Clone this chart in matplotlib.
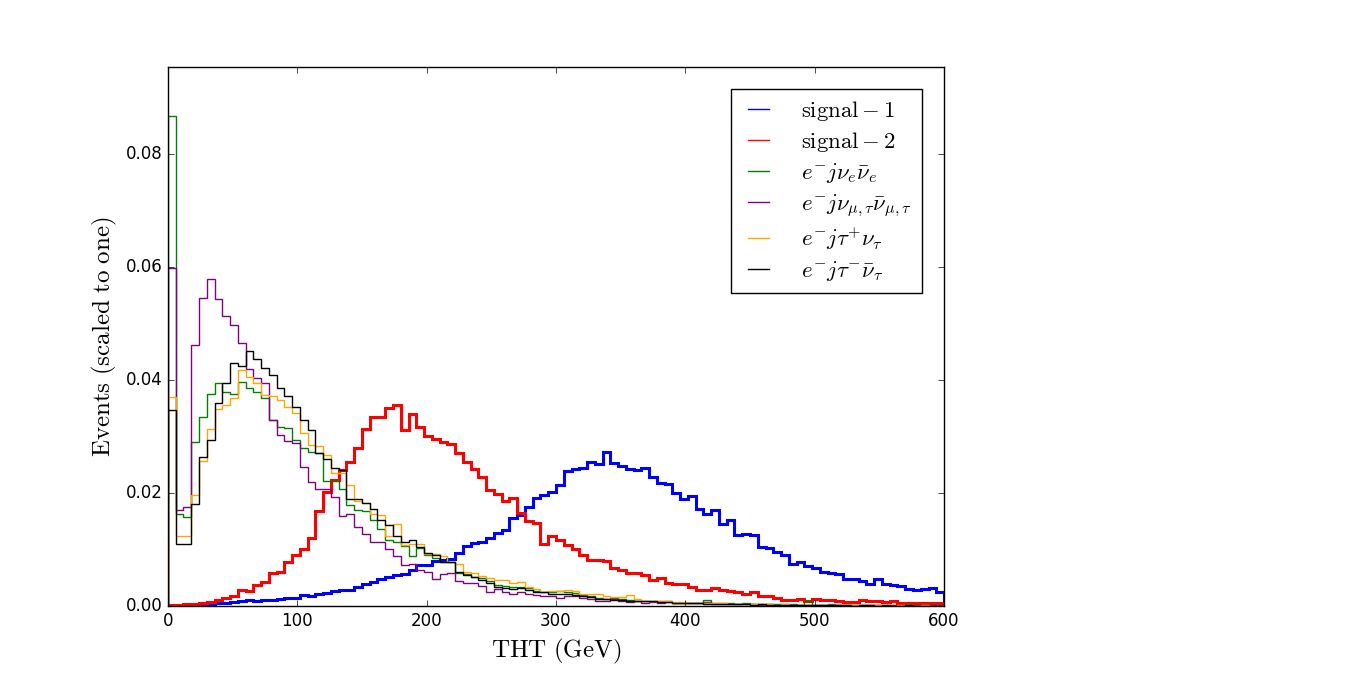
#!/usr/bin/env python3
import numpy as numpy
import matplotlib
matplotlib.use("Agg")
import matplotlib.pyplot as plt
from matplotlib.lines import Line2D

# THT histograms, 100 bins of 6 GeV from 0 to 600, normalised to one
binEdges = numpy.arange(0, 606, 6)

signal1 = [
    0.0000, 0.0000, 0.0001, 0.0001, 0.0002, 0.0003, 0.0005, 0.0005, 0.0007, 0.0008,
    0.0011, 0.0008, 0.0011, 0.0011, 0.0012, 0.0014, 0.0015, 0.0020, 0.0018, 0.0021,
    0.0023, 0.0026, 0.0029, 0.0029, 0.0034, 0.0039, 0.0042, 0.0047, 0.0051, 0.0054,
    0.0057, 0.0064, 0.0072, 0.0073, 0.0079, 0.0081, 0.0084, 0.0094, 0.0106, 0.0111,
    0.0114, 0.0120, 0.0130, 0.0135, 0.0155, 0.0161, 0.0175, 0.0191, 0.0196, 0.0201,
    0.0214, 0.0239, 0.0242, 0.0245, 0.0255, 0.0252, 0.0272, 0.0253, 0.0248, 0.0242,
    0.0240, 0.0244, 0.0229, 0.0218, 0.0216, 0.0200, 0.0189, 0.0194, 0.0171, 0.0163,
    0.0170, 0.0145, 0.0152, 0.0126, 0.0127, 0.0126, 0.0104, 0.0102, 0.0096, 0.0090,
    0.0074, 0.0078, 0.0070, 0.0068, 0.0061, 0.0058, 0.0057, 0.0048, 0.0048, 0.0045,
    0.0039, 0.0048, 0.0039, 0.0037, 0.0036, 0.0030, 0.0028, 0.0030, 0.0031, 0.0024,
]
signal2 = [
    0.0001, 0.0002, 0.0003, 0.0004, 0.0005, 0.0007, 0.0011, 0.0014, 0.0017, 0.0028,
    0.0027, 0.0037, 0.0043, 0.0058, 0.0061, 0.0078, 0.0090, 0.0100, 0.0120, 0.0169,
    0.0202, 0.0223, 0.0241, 0.0255, 0.0279, 0.0313, 0.0335, 0.0334, 0.0350, 0.0356,
    0.0312, 0.0340, 0.0316, 0.0300, 0.0296, 0.0291, 0.0287, 0.0270, 0.0255, 0.0242,
    0.0229, 0.0205, 0.0199, 0.0186, 0.0191, 0.0165, 0.0151, 0.0147, 0.0110, 0.0124,
    0.0116, 0.0108, 0.0101, 0.0090, 0.0081, 0.0081, 0.0080, 0.0067, 0.0063, 0.0059,
    0.0058, 0.0055, 0.0046, 0.0049, 0.0041, 0.0039, 0.0039, 0.0034, 0.0028, 0.0028,
    0.0031, 0.0028, 0.0027, 0.0025, 0.0021, 0.0024, 0.0018, 0.0017, 0.0014, 0.0011,
    0.0011, 0.0012, 0.0009, 0.0012, 0.0011, 0.0011, 0.0008, 0.0007, 0.0007, 0.0011,
    0.0008, 0.0008, 0.0007, 0.0008, 0.0006, 0.0005, 0.0006, 0.0005, 0.0006, 0.0006,
]
bkgNuE = [
    0.0867, 0.0163, 0.0158, 0.0290, 0.0335, 0.0376, 0.0394, 0.0378, 0.0376, 0.0397,
    0.0385, 0.0379, 0.0368, 0.0329, 0.0316, 0.0315, 0.0294, 0.0280, 0.0273, 0.0270,
    0.0222, 0.0222, 0.0207, 0.0178, 0.0170, 0.0169, 0.0152, 0.0136, 0.0116, 0.0114,
    0.0107, 0.0089, 0.0102, 0.0090, 0.0085, 0.0077, 0.0077, 0.0059, 0.0057, 0.0051,
    0.0049, 0.0045, 0.0037, 0.0036, 0.0033, 0.0034, 0.0031, 0.0027, 0.0025, 0.0024,
    0.0026, 0.0024, 0.0023, 0.0019, 0.0018, 0.0015, 0.0013, 0.0014, 0.0012, 0.0011,
    0.0009, 0.0008, 0.0008, 0.0008, 0.0007, 0.0005, 0.0005, 0.0005, 0.0005, 0.0010,
    0.0006, 0.0006, 0.0005, 0.0004, 0.0005, 0.0004, 0.0003, 0.0003, 0.0004, 0.0003,
    0.0003, 0.0002, 0.0008, 0.0002, 0.0002, 0.0003, 0.0002, 0.0002, 0.0002, 0.0001,
    0.0002, 0.0001, 0.0001, 0.0002, 0.0001, 0.0001, 0.0001, 0.0001, 0.0001, 0.0001,
]
bkgNuMuTau = [
    0.0599, 0.0170, 0.0176, 0.0462, 0.0545, 0.0579, 0.0543, 0.0513, 0.0497, 0.0465,
    0.0420, 0.0404, 0.0394, 0.0329, 0.0303, 0.0292, 0.0289, 0.0246, 0.0220, 0.0207,
    0.0207, 0.0193, 0.0159, 0.0162, 0.0140, 0.0127, 0.0113, 0.0113, 0.0101, 0.0089,
    0.0073, 0.0074, 0.0064, 0.0061, 0.0047, 0.0057, 0.0059, 0.0045, 0.0041, 0.0040,
    0.0035, 0.0025, 0.0030, 0.0025, 0.0021, 0.0025, 0.0021, 0.0020, 0.0018, 0.0018,
    0.0015, 0.0018, 0.0017, 0.0014, 0.0012, 0.0009, 0.0008, 0.0012, 0.0008, 0.0007,
    0.0008, 0.0006, 0.0007, 0.0006, 0.0008, 0.0006, 0.0005, 0.0005, 0.0005, 0.0007,
    0.0004, 0.0004, 0.0003, 0.0003, 0.0004, 0.0003, 0.0002, 0.0003, 0.0002, 0.0002,
    0.0002, 0.0002, 0.0001, 0.0002, 0.0001, 0.0001, 0.0001, 0.0001, 0.0001, 0.0001,
    0.0001, 0.0001, 0.0000, 0.0001, 0.0000, 0.0001, 0.0000, 0.0000, 0.0001, 0.0000,
]
bkgTauPlus = [
    0.0370, 0.0124, 0.0124, 0.0196, 0.0257, 0.0313, 0.0348, 0.0356, 0.0368, 0.0418,
    0.0405, 0.0394, 0.0373, 0.0372, 0.0365, 0.0352, 0.0341, 0.0307, 0.0285, 0.0283,
    0.0267, 0.0236, 0.0235, 0.0214, 0.0185, 0.0182, 0.0163, 0.0161, 0.0123, 0.0145,
    0.0108, 0.0110, 0.0110, 0.0092, 0.0092, 0.0089, 0.0078, 0.0075, 0.0061, 0.0058,
    0.0053, 0.0049, 0.0046, 0.0046, 0.0041, 0.0043, 0.0033, 0.0030, 0.0025, 0.0027,
    0.0027, 0.0028, 0.0027, 0.0022, 0.0022, 0.0021, 0.0017, 0.0016, 0.0016, 0.0019,
    0.0012, 0.0009, 0.0009, 0.0008, 0.0008, 0.0007, 0.0007, 0.0006, 0.0006, 0.0006,
    0.0005, 0.0005, 0.0004, 0.0004, 0.0003, 0.0004, 0.0003, 0.0003, 0.0002, 0.0003,
    0.0002, 0.0002, 0.0002, 0.0002, 0.0001, 0.0002, 0.0001, 0.0001, 0.0001, 0.0001,
    0.0001, 0.0001, 0.0001, 0.0000, 0.0001, 0.0001, 0.0000, 0.0001, 0.0000, 0.0000,
]
bkgTauMinus = [
    0.0347, 0.0109, 0.0109, 0.0181, 0.0263, 0.0294, 0.0360, 0.0395, 0.0430, 0.0424,
    0.0451, 0.0437, 0.0422, 0.0409, 0.0385, 0.0371, 0.0353, 0.0329, 0.0311, 0.0270,
    0.0261, 0.0244, 0.0241, 0.0189, 0.0189, 0.0183, 0.0171, 0.0153, 0.0143, 0.0123,
    0.0114, 0.0116, 0.0105, 0.0093, 0.0090, 0.0077, 0.0077, 0.0061, 0.0055, 0.0051,
    0.0046, 0.0040, 0.0034, 0.0031, 0.0030, 0.0031, 0.0029, 0.0025, 0.0024, 0.0021,
    0.0022, 0.0021, 0.0020, 0.0017, 0.0016, 0.0013, 0.0013, 0.0011, 0.0011, 0.0009,
    0.0009, 0.0008, 0.0008, 0.0007, 0.0007, 0.0006, 0.0005, 0.0005, 0.0005, 0.0004,
    0.0004, 0.0004, 0.0003, 0.0003, 0.0003, 0.0002, 0.0003, 0.0002, 0.0002, 0.0002,
    0.0001, 0.0002, 0.0001, 0.0001, 0.0001, 0.0001, 0.0001, 0.0001, 0.0000, 0.0001,
    0.0001, 0.0000, 0.0001, 0.0000, 0.0000, 0.0001, 0.0000, 0.0000, 0.0000, 0.0000,
]

labels = [
    r"$\mathrm{signal-1}$",
    r"$\mathrm{signal-2}$",
    r"$e^{-}j\nu_{e}\bar{\nu}_{e}$",
    r"$e^{-}j\nu_{\mu,\tau}\bar{\nu}_{\mu,\tau}$",
    r"$e^{-}j\tau^{+}\nu_{\tau}$",
    r"$e^{-}j\tau^{-}\bar{\nu}_{\tau}$",
]
colors = ["blue", "red", "green", "purple", "orange", "black"]
widths = [2.2, 2.2, 1.0, 1.0, 1.0, 1.0]


def PlotTHT(ax, series):
    """Draw every histogram as a step outline and add the legend."""
    for values, color, width in zip(series, colors, widths):
        ax.stairs(values, binEdges, color=color, linewidth=width)

    # legend handles are thin lines for all samples
    handles = [Line2D([], [], color=c, linewidth=1.0) for c in colors]
    ax.legend(
        handles,
        labels,
        loc="upper right",
        bbox_to_anchor=(0.9716, 0.959),
        borderaxespad=0.0,
        fontsize=16.4,
        handlelength=1.5,
        handletextpad=1.1,
        labelspacing=0.3,
        borderpad=0.45,
        frameon=True,
    )

    ax.set_xlim(0, 600)
    ax.set_ylim(0, 0.0954)
    ax.set_xticks([0, 100, 200, 300, 400, 500, 600])
    ax.set_yticks([0.00, 0.02, 0.04, 0.06, 0.08])
    ax.set_yticklabels(["0.00", "0.02", "0.04", "0.06", "0.08"])
    ax.set_xlabel(r"$\mathrm{THT\ (GeV)}$", fontsize=18)
    ax.set_ylabel(r"$\mathrm{Events\ (scaled\ to\ one)}$", fontsize=18)


if __name__ == "__main__":
    plt.style.use("classic")
    plt.rcParams["mathtext.fontset"] = "cm"
    plt.rcParams["font.family"] = ["DejaVu Sans"]

    fig = plt.figure(figsize=(13.49, 6.74), dpi=100, facecolor="white")
    ax = fig.add_axes([0.1245, 0.1009, 0.5753, 0.7997])

    PlotTHT(ax, [signal1, signal2, bkgNuE, bkgNuMuTau, bkgTauPlus, bkgTauMinus])
    fig.savefig("out.png", dpi=100, facecolor="white")
